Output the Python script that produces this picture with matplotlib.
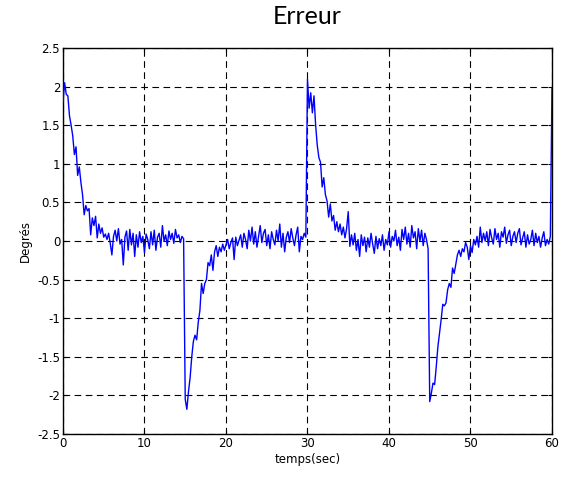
import numpy as np
import matplotlib
matplotlib.use("Agg")
import matplotlib.pyplot as plt

# Tracking error sampled every 0.2 s over 60 s
dt = 0.2
err_0_15 = [
    1.80, 2.05, 1.90, 1.88, 1.62, 1.50, 1.36, 1.12, 1.22, 0.85,
    0.96, 0.76, 0.60, 0.34, 0.46, 0.39, 0.42, 0.08, 0.30, 0.20,
    0.32, 0.04, 0.22, 0.10, 0.17, 0.05, 0.09, 0.02, 0.10, -0.03,
    -0.18, 0.06, 0.14, 0.00, 0.16, -0.04, 0.02, -0.31, 0.05, 0.13,
    -0.12, 0.15, -0.05, 0.10, -0.20, 0.08, -0.08, 0.12, -0.02, 0.06,
    -0.15, 0.09, 0.02, -0.10, 0.12, -0.05, 0.14, -0.12, 0.05, 0.10,
    -0.08, 0.20, 0.00, 0.08, -0.06, 0.13, 0.02, 0.10, -0.03, 0.15,
    0.04, 0.08, -0.02, 0.06, 0.03,
]
err_15_30 = [
    -2.05, -2.18, -1.95, -1.77, -1.50, -1.30, -1.22, -1.28, -1.05, -0.90,
    -0.55, -0.68, -0.55, -0.50, -0.28, -0.32, -0.18, -0.38, -0.14, -0.06,
    -0.20, -0.08, -0.14, -0.04, -0.12, -0.05, 0.02, -0.10, -0.02, 0.04,
    -0.24, 0.05, -0.06, 0.01, 0.08, -0.08, 0.10, 0.02, -0.10, 0.14,
    0.00, 0.18, -0.04, 0.12, -0.08, 0.06, 0.20, -0.02, 0.10, 0.15,
    -0.06, 0.08, -0.10, 0.12, 0.02, -0.05, 0.14, 0.00, 0.22, -0.08,
    0.10, -0.14, 0.05, 0.12, -0.02, 0.16, 0.04, -0.06, 0.08, 0.18,
    -0.14, 0.06, 0.02, 0.10, 0.05,
]
err_30_45 = [
    2.10, 1.72, 1.92, 1.66, 1.88, 1.50, 1.24, 1.08, 1.02, 0.70,
    0.82, 0.60, 0.52, 0.31, 0.48, 0.26, 0.33, 0.14, 0.25, 0.12,
    0.22, 0.08, 0.18, 0.04, 0.16, 0.38, -0.07, 0.08, -0.05, 0.10,
    -0.12, 0.02, -0.20, 0.08, -0.06, 0.05, -0.14, 0.04, -0.08, 0.10,
    -0.04, -0.16, 0.06, -0.10, 0.03, -0.06, 0.08, -0.12, 0.02, -0.05,
    0.12, -0.08, 0.06, 0.00, 0.14, -0.06, 0.05, -0.12, 0.15, 0.02,
    0.18, -0.04, 0.10, -0.08, 0.20, 0.04, 0.12, -0.10, 0.16, 0.00,
    0.14, -0.06, 0.10, 0.02, -0.10,
]
err_45_60 = [
    -2.08, -1.97, -1.84, -1.86, -1.63, -1.37, -1.20, -1.02, -0.82, -0.84,
    -0.80, -0.63, -0.55, -0.60, -0.35, -0.42, -0.30, -0.18, -0.12, -0.20,
    -0.10, -0.14, -0.02, -0.08, -0.24, -0.06, -0.15, 0.02, -0.05, 0.06,
    -0.08, 0.18, -0.02, 0.10, 0.00, 0.12, -0.06, 0.15, 0.04, -0.04,
    0.16, 0.02, 0.10, -0.08, 0.12, 0.05, 0.18, -0.03, 0.08, 0.14,
    -0.06, 0.06, 0.12, -0.02, 0.10, 0.16, -0.05, 0.04, 0.12, -0.08,
    0.08, -0.04, 0.02, 0.14, -0.06, 0.10, -0.02, 0.06, -0.08, 0.04,
    0.12, -0.06, 0.02, -0.04, 0.06,
    1.98,
]

error = np.array(err_0_15 + err_15_30 + err_30_45 + err_45_60)
t = np.arange(len(error)) * dt

x_ticks = [0, 10, 20, 30, 40, 50, 60]
y_ticks = [-2.5, -2, -1.5, -1, -0.5, 0, 0.5, 1, 1.5, 2, 2.5]
y_tick_labels = ["-2.5", "-2", "-1.5", "-1", "-0.5", "0", "0.5", "1", "1.5", "2", "2.5"]

fig = plt.figure(figsize=(5.72, 4.79), dpi=100)
ax = fig.add_axes([0.1101, 0.0939, 0.8549, 0.8059])

ax.plot(t, error, color=(0, 0, 1), linewidth=1.0, zorder=3)

ax.set_xlim(0, 60)
ax.set_ylim(-2.5, 2.5)
ax.set_xticks(x_ticks)
ax.set_xticklabels([str(v) for v in x_ticks])
ax.set_yticks(y_ticks)
ax.set_yticklabels(y_tick_labels)

ax.grid(True, color="black", linestyle=(0, (6, 4)), linewidth=0.8)
ax.tick_params(direction="in", top=True, right=True, length=3,
               labelsize=8.5, pad=2, width=0.8)
for s in ax.spines.values():
    s.set_linewidth(1.0)
    s.set_color("black")

ax.set_title("Erreur", fontsize=18, family="Lato", pad=17)
ax.set_xlabel("temps(sec)", fontsize=8.5, labelpad=2)
ax.set_ylabel("Degrés", fontsize=8.5, labelpad=4)

fig.savefig("out.png", dpi=100)
